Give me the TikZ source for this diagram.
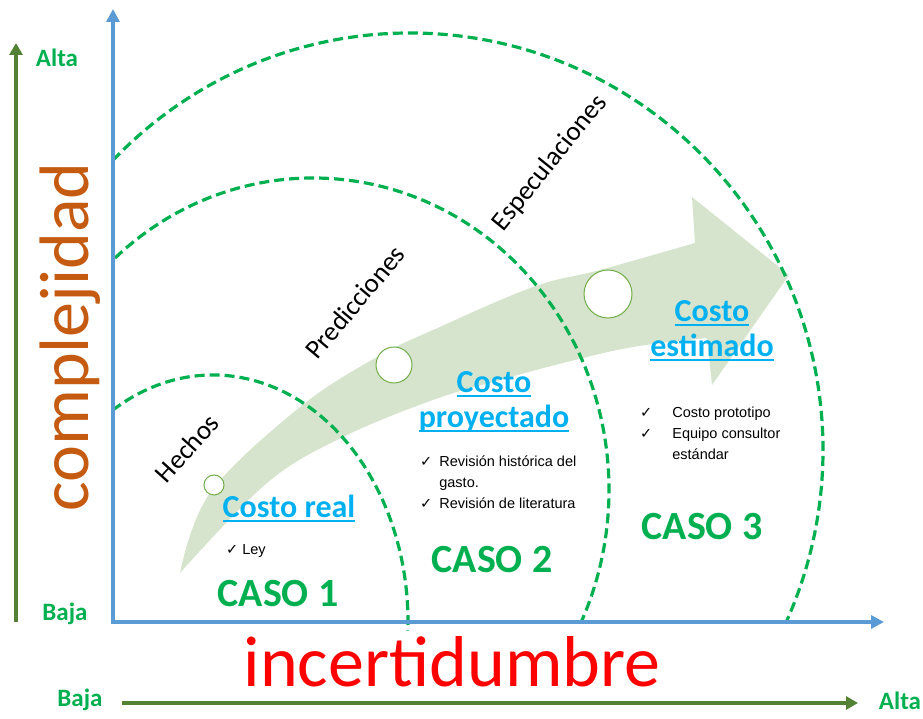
\documentclass[tikz,border=0pt]{standalone}
\usepackage{fontspec}
\setmainfont{Carlito}
\newfontfamily\arialf{Liberation Sans}
\newfontfamily\symf{DejaVu Sans}
\usetikzlibrary{arrows.meta}

\definecolor{axisblue}{HTML}{5B9BD5}
\definecolor{axisgreen}{HTML}{548235}
\definecolor{casegreen}{HTML}{00B050}
\definecolor{titleblue}{HTML}{00B0F0}
\definecolor{orangebrown}{HTML}{C55A11}
\definecolor{arrowfill}{HTML}{D6E4CD}
\definecolor{dotgreen}{HTML}{70AD47}

\newcommand{\ulinec}[1]{\setbox0=\hbox{#1}\rlap{\rule[-4.5pt]{\wd0}{2pt}}\box0}
\newcommand{\chk}{{\symf ✓}}

\tikzset{
  titlebox/.style={font=\fontsize{32}{35}\selectfont\bfseries, text=titleblue, align=center, inner sep=0pt},
  casebox/.style={font=\fontsize{40}{44}\selectfont\bfseries, text=casegreen, inner sep=0pt},
  levelbox/.style={font=\fontsize{25}{28}\selectfont\bfseries, text=casegreen, inner sep=0pt},
  zonebox/.style={font=\fontsize{27}{30}\selectfont, inner sep=0pt},
  listbox/.style={font=\arialf\fontsize{14.5}{21}\selectfont, inner sep=0pt, align=left},
  dashline/.style={draw=casegreen, line width=3.2pt, dash pattern=on 10pt off 5pt},
  dotc/.style={circle, draw=dotgreen, fill=white, line width=1pt, inner sep=0pt},
}

\begin{document}
\begin{tikzpicture}[x=1pt, y=1pt]
  \useasboundingbox (0,0) rectangle (923,719);
  % flecha curva de fondo
  \fill[arrowfill] plot[smooth, tension=0.6] coordinates {(180,146) (210,226) (300,312) (377,362) (433,389) (533,432) (600,449) (695,476)}
    -- (692,522) -- (789,444) -- (712,334)
    -- plot[smooth, tension=0.6] coordinates {(707,381) (633,372) (567,357) (500,339) (433,319) (343,282) (267,236) (180,146)} -- cycle;
  % arcos punteados
  \coordinate (c1) at (213,97);
  \coordinate (c2) at (313,229);
  \coordinate (c3) at (410,269);
  \draw[dashline] (c1) ++(121:195 and 247) arc[start angle=121, end angle=-2, x radius=195, y radius=247];
  \draw[dashline] (c2) ++(132:296 and 312) arc[start angle=132, end angle=-25, x radius=296, y radius=312];
  \draw[dashline] (c3) ++(136:413 and 417) arc[start angle=136, end angle=-24.5, x radius=413, y radius=417];
  % ejes
  \coordinate (O) at (113,97);
  \coordinate (Ytop) at (113,710);
  \coordinate (Xend) at (884,97);
  \coordinate (gV0) at (16,97);
  \coordinate (gV1) at (16,676);
  \coordinate (gH0) at (122,16);
  \coordinate (gH1) at (858,16);
  \draw[axisblue, line width=4pt, -{Triangle[length=13pt,width=13pt]}] (O) -- (Ytop);
  \draw[axisblue, line width=4pt, -{Triangle[length=13pt,width=13pt]}] ([xshift=-2pt]O) -- (Xend);
  \draw[axisgreen, line width=3.5pt, -{Triangle[length=12pt,width=13pt]}] (gV0) -- (gV1);
  \draw[axisgreen, line width=3.5pt, -{Triangle[length=12pt,width=13pt]}] (gH0) -- (gH1);
  % circulos
  \node[dotc, minimum size=20pt] (p1) at (214,234) {};
  \node[dotc, minimum size=36pt] (p2) at (394,354) {};
  \node[dotc, minimum size=48pt] (p3) at (608,425) {};
  % textos de ejes
  \node[levelbox, anchor=base] (altaV) at (57,652) {Alta};
  \node[levelbox, anchor=base] (bajaV) at (65,98) {Baja};
  \node[levelbox, anchor=base] (bajaH) at (80,12) {Baja};
  \node[levelbox, anchor=base] (altaH) at (900,9) {Alta};
  \node[font=\fontsize{70}{80}\selectfont, text=orangebrown, rotate=90, anchor=base, inner sep=0pt] (ejeY) at (88,382) {complejidad};
  \node[font=\fontsize{72}{80}\selectfont, text=red, anchor=base, inner sep=0pt] (ejeX) at (452,32) {incertidumbre};
  % zonas
  \node[zonebox, rotate=48] (hechos) at (187,271) {Hechos};
  \node[zonebox, rotate=50] (pred) at (355,417) {Predicciones};
  \node[zonebox, rotate=51] (espec) at (550,556) {Especulaciones};
  % casos
  \node[casebox, anchor=base] (caso1) at (278,112) {CASO 1};
  \node[casebox, anchor=base] (caso2) at (492,146) {CASO 2};
  \node[casebox, anchor=base] (caso3) at (702,179) {CASO 3};
  \node[titlebox, anchor=base] (real) at (289,201) {\ulinec{Costo real}};
  \node[titlebox, anchor=base] (proy) at (494,291) {\ulinec{Costo}\\\ulinec{proyectado}};
  \node[titlebox, anchor=base] (esti) at (712,362) {\ulinec{Costo}\\\ulinec{estimado}};
  % listas
  \node[listbox, anchor=base west] (ley) at (226,164) {\chk\hspace{4pt}Ley};
  \node[listbox, anchor=base west] (listaProy) at (420,252) {\begin{tabular}[t]{@{}l@{\hspace{7pt}}l@{}}
    \chk & Revisión histórica del\\
         & gasto.\\
    \chk & Revisión de literatura
  \end{tabular}};
  \node[listbox, anchor=base west] (listaEst) at (640,301) {\begin{tabular}[t]{@{}l@{\hspace{20pt}}l@{}}
    \chk & Costo prototipo\\
    \chk & Equipo consultor\\
         & estándar
  \end{tabular}};
\end{tikzpicture}
\end{document}
